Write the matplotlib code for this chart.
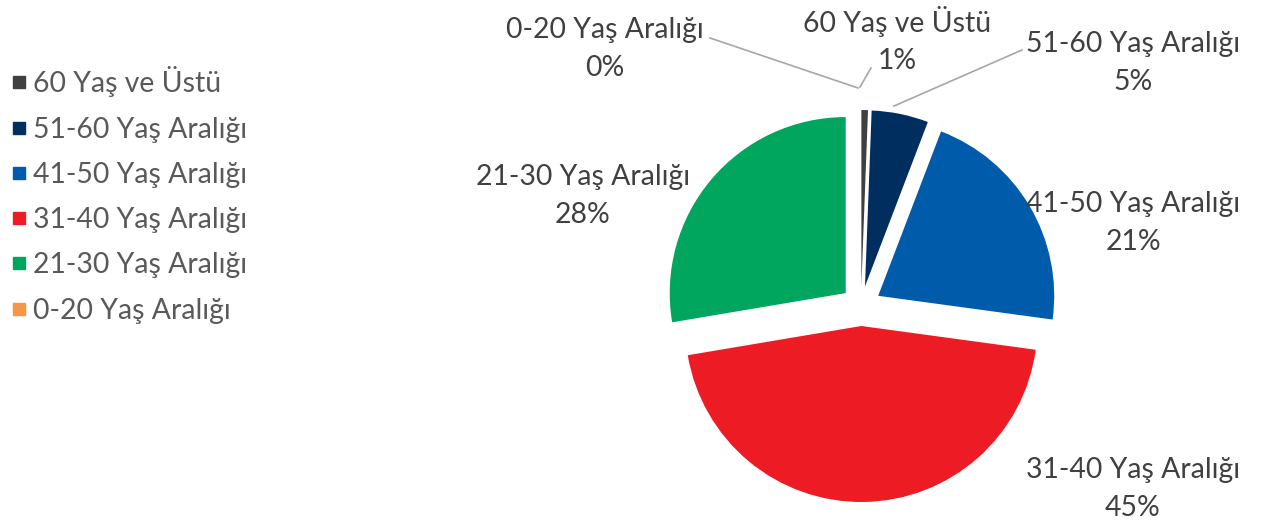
import matplotlib
matplotlib.use("Agg")
import matplotlib.pyplot as plt
from matplotlib.lines import Line2D

# data (percent), in Excel series order: first slice starts at 12 o'clock, clockwise
groups = ["60 Yaş ve Üstü", "51-60 Yaş Aralığı", "41-50 Yaş Aralığı",
          "31-40 Yaş Aralığı", "21-30 Yaş Aralığı", "0-20 Yaş Aralığı"]
shares = [0.6, 5.2, 21.3, 45.1, 27.6, 0.0]
colors = ["#404040", "#002f5f", "#005bab", "#ed1c24", "#00a65d", "#f79646"]

plt.rcParams["font.family"] = ["Lato", "DejaVu Sans"]

W, H = 1271, 520
fig = plt.figure(figsize=(W / 100, H / 100), dpi=100)
ax = fig.add_axes([0, 0, 1, 1])

cx, cy, R = 861, H - 306, 176
wedges, _ = ax.pie(shares, colors=colors, startangle=90, counterclock=False,
                   explode=[20] * len(shares), radius=R, center=(cx, cy),
                   frame=True, wedgeprops=dict(linewidth=0))
ax.set_xlim(0, W)
ax.set_ylim(0, H)
ax.set_aspect("equal")
ax.axis("off")

# data label placement (pixels from top-left, like the original)
label_pos = [(897, 40), (1133, 63), (1133, 223), (1133, 489), (583, 196), (605, 49)]
for name, val, (x, y) in zip(groups, shares, label_pos):
    ax.text(x, H - y, f"{name}\n{val:.0f}%", ha="center", va="center",
            fontsize=20.4, color="#404040", linespacing=1.55)

# leader lines for the small slices
leaders = [((871, 68), (860, 87)), ((1022, 50), (894, 106)), ((710, 38), (858, 88))]
for (x0, y0), (x1, y1) in leaders:
    ax.plot([x0, x1], [H - y0, H - y1], color="#a6a6a6", lw=1.2)

handles = [Line2D([], [], marker="s", ls="", color=c, markersize=9) for c in colors]
leg = ax.legend(handles, groups, loc="upper left", bbox_to_anchor=(0 / W, 1 - 55 / H),
                frameon=False, fontsize=20.4, labelspacing=0.68, handlelength=0.55,
                handletextpad=0.2, borderaxespad=0)
for t in leg.get_texts():
    t.set_color("#595959")

fig.savefig("out.png", dpi=100)
